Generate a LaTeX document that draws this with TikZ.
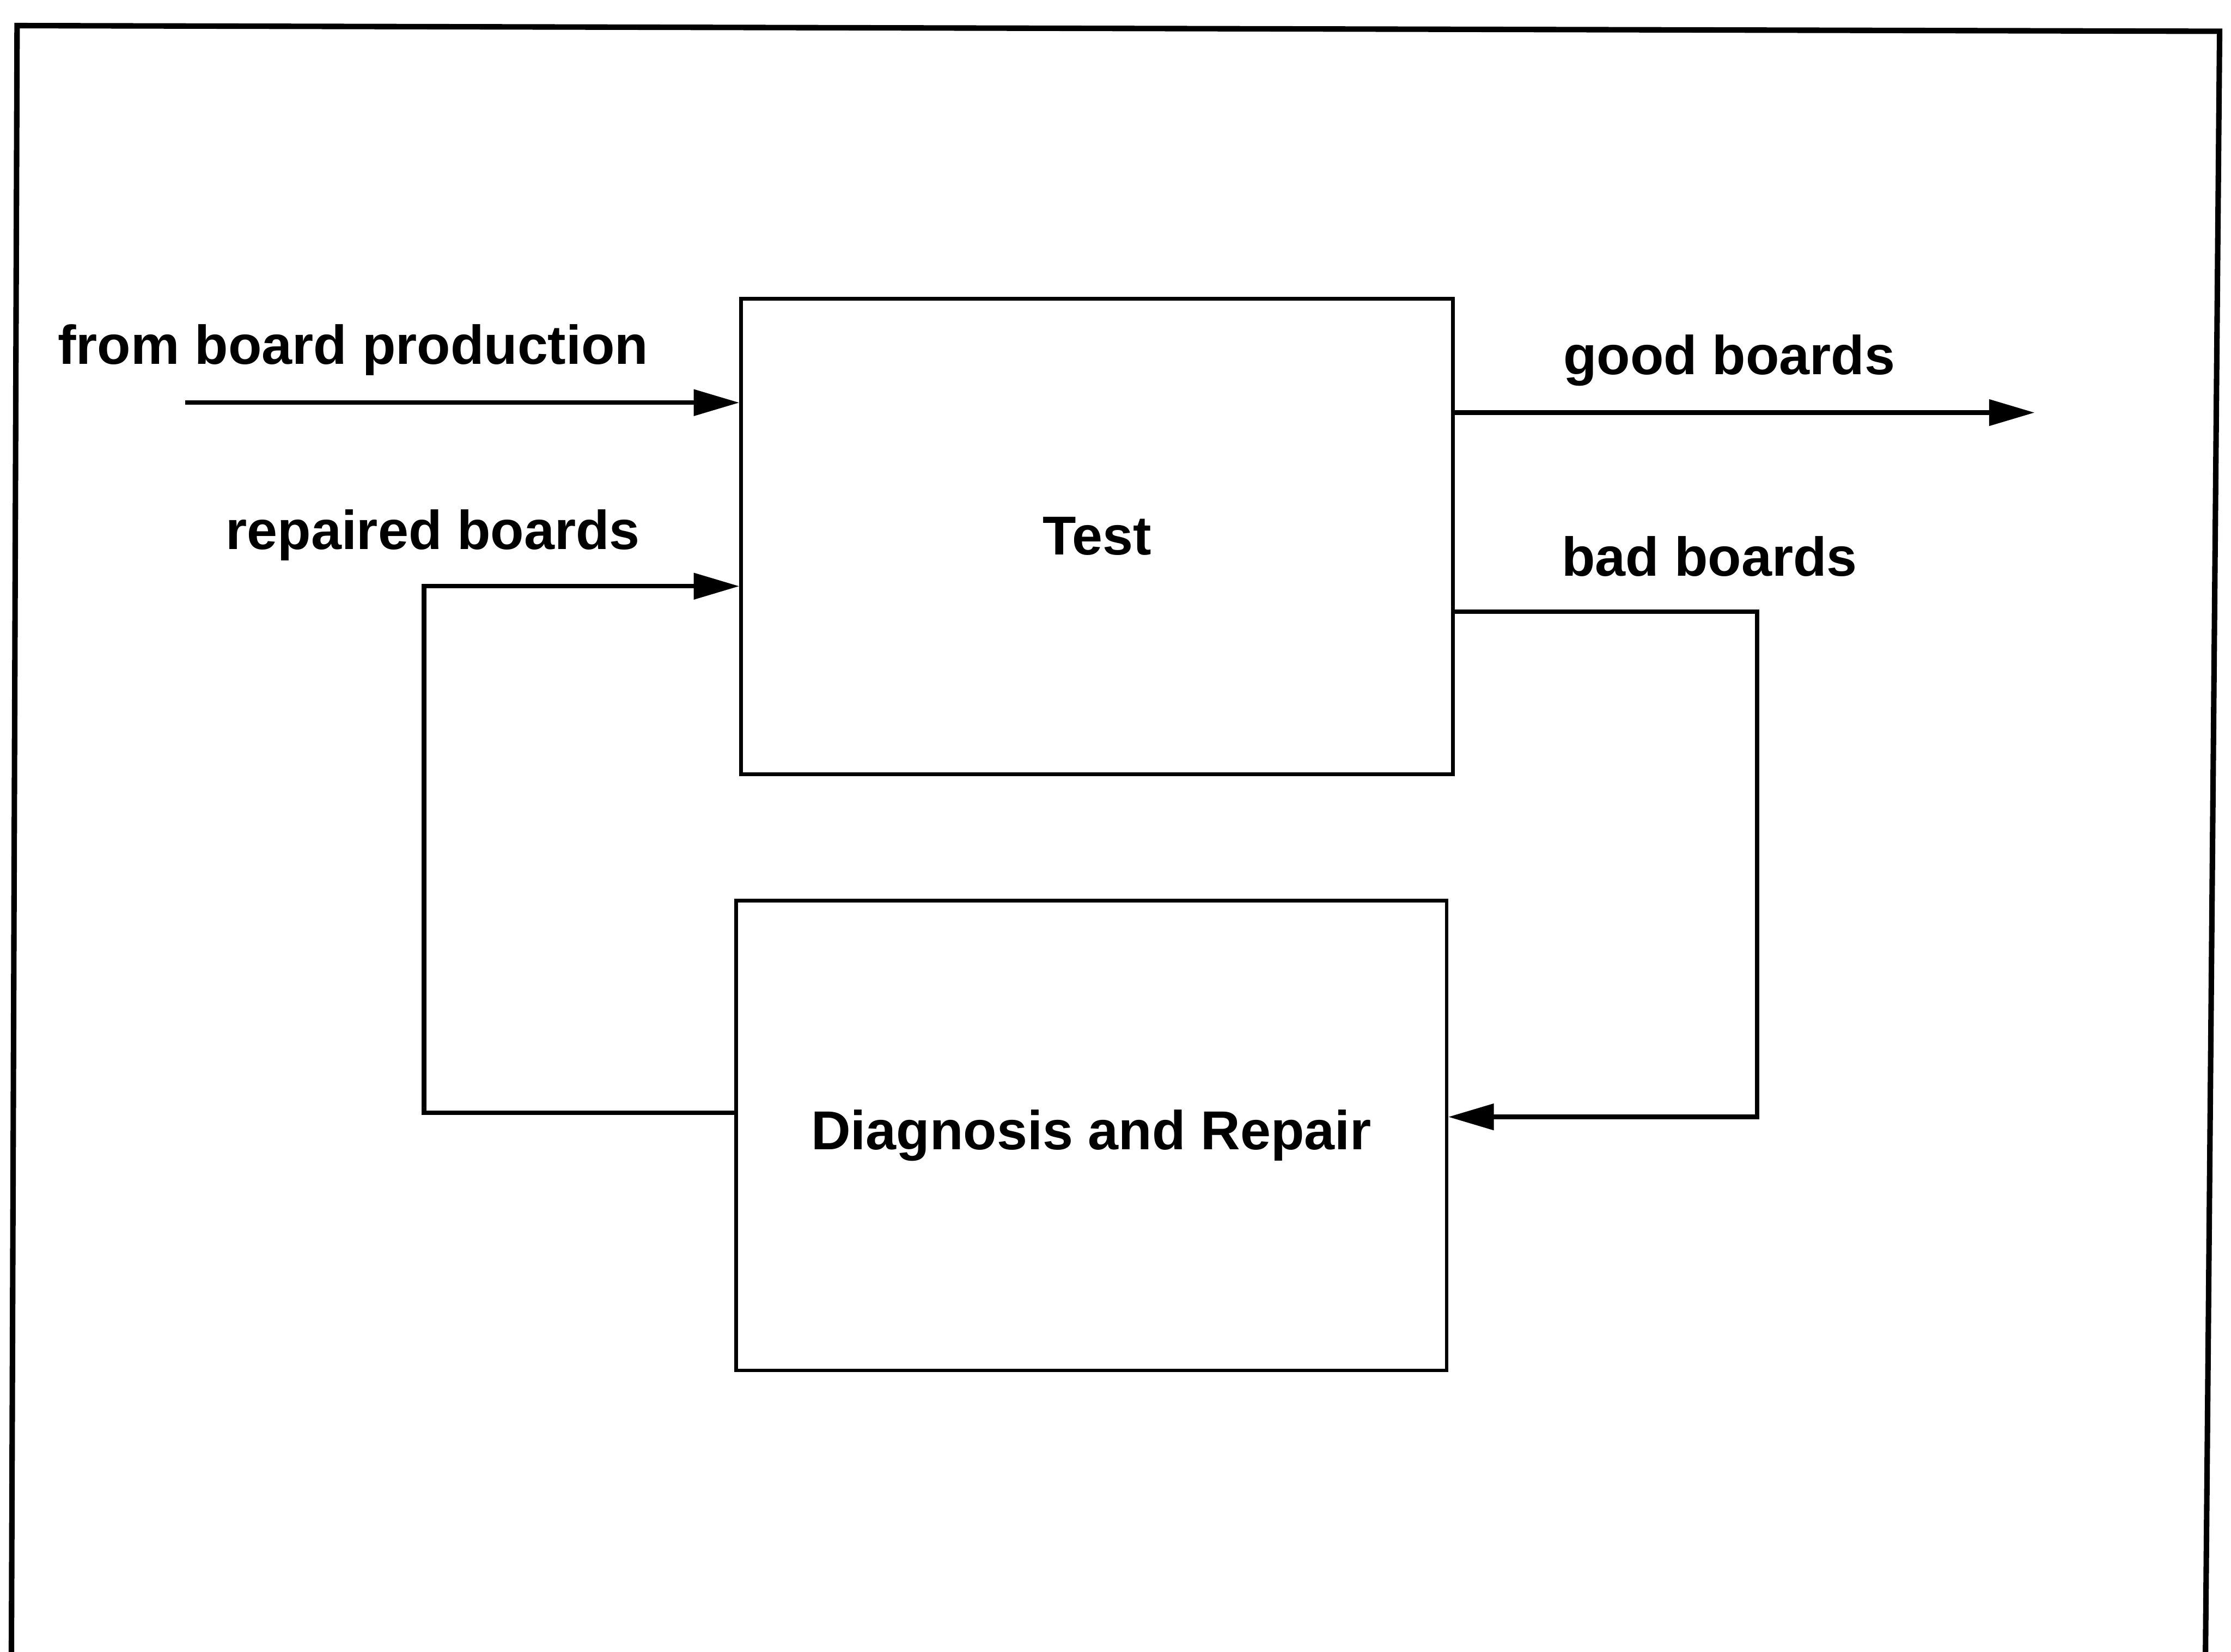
\documentclass[tikz,border=0pt]{standalone}
\usepackage{fontspec}
\setmainfont{Liberation Sans}
\usetikzlibrary{arrows.meta}
\begin{document}
\begin{tikzpicture}[x=0.01cm,y=-0.01cm,
  box/.style={draw,line width=0.7pt,inner sep=0pt,font=\fontsize{10.95}{13}\bfseries\selectfont},
  lbl/.style={anchor=base west,inner sep=0pt,font=\fontsize{10.95}{13}\bfseries\selectfont},
  conn/.style={line width=0.9pt},
  arr/.style={conn,-{Triangle[length=0.32cm,width=0.18cm]}},
  frame/.style={line width=1.1pt}]
\useasboundingbox (0,0) rectangle (1568,1161);
% frame
\draw[frame] (8,1170) -- (12,18) -- (1560,22) -- (1550,1170);
% boxes
\node[box,minimum width=5.0cm,minimum height=3.34cm] (test) at (771,377) {Test};
\node[box,minimum width=4.99cm,minimum height=3.30cm] (diag) at (767,798) {Diagnosis and Repair};
% labels
\node[lbl] (lfrom) at (40,256) {from board production};
\node[lbl] (lrep) at (158,386) {repaired boards};
\node[lbl] (lgood) at (1098,263) {good boards};
\node[lbl] (lbad) at (1097,405) {bad boards};
% connector coordinates
\coordinate (src) at (130,283);
\coordinate (goodend) at (1430,290);
\coordinate (badR) at (1235,430);
\coordinate (repL) at (298,782);
% connectors
\draw[arr] (src) -- (src -| test.west);
\draw[arr] (test.east |- goodend) -- (goodend);
\draw[arr] (test.east |- badR) -- (badR) -- (badR |- 0,785) -- (diag.east |- 0,785);
\draw[arr] (diag.west |- repL) -- (repL) -- (repL |- 0,412) -- (test.west |- 0,412);
\end{tikzpicture}
\end{document}
